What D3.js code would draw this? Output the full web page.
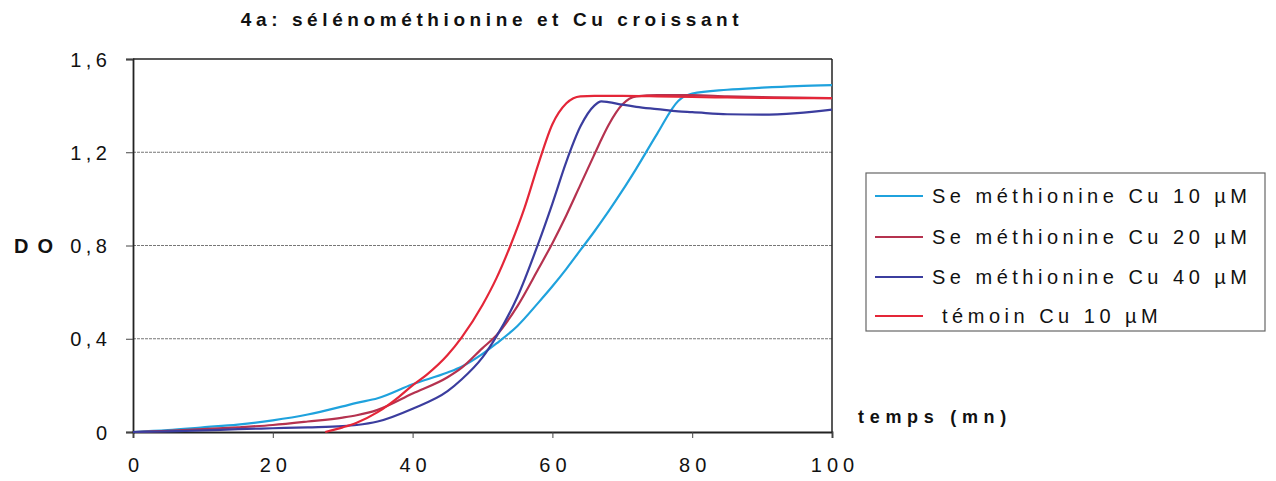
<!DOCTYPE html>
<html>
<head>
<meta charset="utf-8">
<script src="https://cdn.jsdelivr.net/npm/d3@7/dist/d3.min.js"></script>
<style>
  body { margin: 0; background: #fff; }
  svg { display: block; }
  svg text { font-family: "Liberation Sans", Arial, sans-serif !important; fill: #111; }
</style>
</head>
<body>
<svg id="chart" width="1276" height="481"></svg>
<script>
// ---- Data ----
const chartTitle = "4a: sélénométhionine et Cu croissant";
const yLabel = "DO";
const xLabel = "temps (mn)";
const xTicks = [0, 20, 40, 60, 80, 100];
const yTicks = [0, 0.4, 0.8, 1.2, 1.6];
const yTickLabels = ["0", "0,4", "0,8", "1,2", "1,6"];
const seriesNames = ["Se méthionine Cu 10 µM", "Se méthionine Cu 20 µM", "Se méthionine Cu 40 µM", " témoin Cu 10 µM"];
const seriesColors = ["#1fa2dd", "#b5324f", "#3b3d9e", "#e42638"];

const timesSe = [0, 5, 10, 15, 20, 25, 30, 32, 35, 40, 45, 47, 50, 52, 55, 58, 60, 62, 64, 66, 67, 68, 70, 72, 75, 78, 80, 85, 90, 95, 100];
const seCu10 = [0, 0.008, 0.02, 0.032, 0.05, 0.075, 0.11, 0.125, 0.145, 0.205, 0.255, 0.28, 0.335, 0.38, 0.455, 0.555, 0.625, 0.70, 0.78, 0.86, 0.902, 0.945, 1.035, 1.13, 1.28, 1.42, 1.452, 1.468, 1.477, 1.484, 1.488];
const seCu20 = [0, 0.005, 0.012, 0.02, 0.03, 0.045, 0.062, 0.072, 0.095, 0.165, 0.235, 0.275, 0.36, 0.415, 0.54, 0.70, 0.81, 0.93, 1.06, 1.19, 1.255, 1.315, 1.405, 1.44, 1.445, 1.445, 1.445, 1.44, 1.437, 1.434, 1.432];
const seCu40 = [0, 0.003, 0.007, 0.012, 0.016, 0.02, 0.025, 0.03, 0.045, 0.1, 0.175, 0.225, 0.32, 0.41, 0.58, 0.81, 0.98, 1.16, 1.31, 1.4, 1.418, 1.415, 1.404, 1.395, 1.385, 1.375, 1.372, 1.363, 1.361, 1.368, 1.383];
const timesTemoin = [27.5, 30, 32, 35, 38, 40, 42, 45, 47, 50, 52, 54, 56, 58, 60, 62, 63, 64, 66, 70, 75, 80, 85, 90, 95, 100];
const temoinCu10 = [0, 0.02, 0.04, 0.085, 0.15, 0.2, 0.245, 0.33, 0.405, 0.545, 0.66, 0.8, 0.96, 1.15, 1.32, 1.41, 1.432, 1.44, 1.442, 1.442, 1.44, 1.437, 1.435, 1.433, 1.432, 1.432];

// ---- Build series ----
const series = [
  { name: seriesNames[0], color: seriesColors[0], pts: timesSe.map((t, i) => [t, seCu10[i]]) },
  { name: seriesNames[1], color: seriesColors[1], pts: timesSe.map((t, i) => [t, seCu20[i]]) },
  { name: seriesNames[2], color: seriesColors[2], pts: timesSe.map((t, i) => [t, seCu40[i]]) },
  { name: seriesNames[3], color: seriesColors[3], pts: timesTemoin.map((t, i) => [t, temoinCu10[i]]) }
];

const svg = d3.select("#chart");
const margin = { left: 133, right: 444, top: 59, bottom: 49 };
const W = 1276, H = 481;
const x = d3.scaleLinear().domain([0, 100]).range([margin.left, W - margin.right]);
const y = d3.scaleLinear().domain([0, 1.6]).range([H - margin.bottom, margin.top]);

// Gridlines
svg.append("g").selectAll("line").data(yTicks.filter(v => v > 0 && v < 1.6)).join("line")
  .attr("x1", x(0)).attr("x2", x(100))
  .attr("y1", d => y(d)).attr("y2", d => y(d))
  .attr("stroke", "#777").attr("stroke-width", 1.2).attr("stroke-dasharray", "3,1");

// Frame (top and right)
svg.append("line").attr("x1", x(0)).attr("x2", x(100)).attr("y1", y(1.6)).attr("y2", y(1.6))
  .attr("stroke", "#222").attr("stroke-width", 1.5);
svg.append("line").attr("x1", x(100)).attr("x2", x(100)).attr("y1", y(1.6)).attr("y2", y(0))
  .attr("stroke", "#222").attr("stroke-width", 1.5);

// Y axis
const ySp = 4.5;
const yAxis = d3.axisLeft(y).tickValues(yTicks).tickSize(7).tickPadding(19 - ySp)
  .tickFormat((d, i) => yTickLabels[i]);
const gy = svg.append("g").attr("transform", `translate(${x(0)},0)`).call(yAxis);
gy.select(".domain").attr("stroke", "#222").attr("stroke-width", 1.8);
gy.selectAll(".tick line").attr("stroke", "#444");
gy.selectAll(".tick text").style("font-size", "20px").style("letter-spacing", ySp + "px")
  .attr("fill", "#111").attr("dy", "0.35em");

// X axis
const xSp = 5;
const xAxis = d3.axisBottom(x).tickValues(xTicks).tickSize(6).tickPadding(20).tickFormat(d3.format("d"));
const gx = svg.append("g").attr("transform", `translate(0,${y(0)})`).call(xAxis);
gx.select(".domain").attr("stroke", "#222").attr("stroke-width", 1.8);
gx.selectAll(".tick line").attr("stroke", "#444");
gx.selectAll(".tick text").style("font-size", "20px").style("letter-spacing", xSp + "px")
  .attr("dx", (xSp / 2) + "px").attr("fill", "#111");

// Lines
const line = d3.line().x(d => x(d[0])).y(d => y(d[1])).curve(d3.curveMonotoneX);
svg.append("g").selectAll("path").data(series).join("path")
  .attr("d", d => line(d.pts))
  .attr("fill", "none").attr("stroke", d => d.color).attr("stroke-width", 2.2)
  .attr("stroke-linejoin", "round");

// Title
svg.append("text").attr("x", 492).attr("y", 26).attr("text-anchor", "middle")
  .style("font-size", "19px").style("font-weight", "bold").style("letter-spacing", "4.6px")
  .text(chartTitle);

// Axis labels
svg.append("text").attr("x", 14).attr("y", y(0.8)).attr("dy", "0.35em")
  .style("font-size", "20px").style("font-weight", "bold").style("letter-spacing", "9px")
  .text(yLabel);
svg.append("text").attr("x", 858).attr("y", 423)
  .style("font-size", "18px").style("font-weight", "bold").style("letter-spacing", "5.7px")
  .text(xLabel);

// Legend
const lg = svg.append("g");
lg.append("rect").attr("x", 866).attr("y", 173).attr("width", 399).attr("height", 158)
  .attr("fill", "#fff").attr("stroke", "#666").attr("stroke-width", 1.2);
const rows = lg.selectAll("g.row").data(series).join("g").attr("class", "row")
  .attr("transform", (d, i) => `translate(0,${[196, 237, 277, 316][i]})`);
rows.append("line").attr("x1", 875).attr("x2", 923).attr("y1", 0).attr("y2", 0)
  .attr("stroke", d => d.color).attr("stroke-width", 2.2);
rows.append("text").attr("x", 932).attr("y", 0).attr("dy", "0.35em")
  .style("font-size", "20px").style("letter-spacing", "4.5px").style("white-space", "pre")
  .attr("xml:space", "preserve")
  .text(d => d.name);
</script>
</body>
</html>
